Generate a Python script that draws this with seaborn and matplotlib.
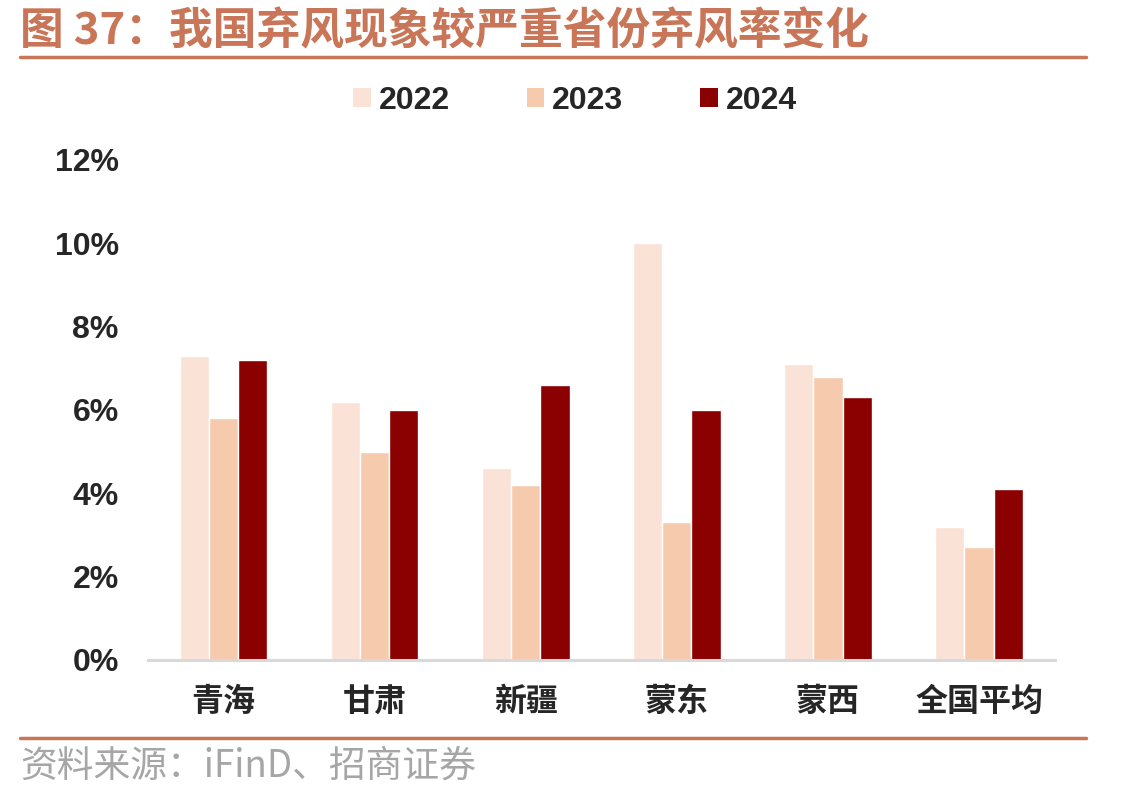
import numpy as np
import pandas as pd
import matplotlib
matplotlib.use("Agg")
import matplotlib.pyplot as plt
import seaborn as sns
from matplotlib.lines import Line2D
from matplotlib.patches import Patch

# Daten
provinces = ["青海", "甘肃", "新疆", "蒙东", "蒙西", "全国平均"]
years = ["2022", "2023", "2024"]
rate_2022 = [7.3, 6.2, 4.6, 10.0, 7.1, 3.2]
rate_2023 = [5.8, 5.0, 4.2, 3.3, 6.8, 2.7]
rate_2024 = [7.2, 6.0, 6.6, 6.0, 6.3, 4.1]
yticks = [0, 2, 4, 6, 8, 10, 12]

colors = ["#FAE3D6", "#F6CAAD", "#8B0000"]

df = pd.DataFrame({
    "省份": provinces * 3,
    "年份": [years[0]] * 6 + [years[1]] * 6 + [years[2]] * 6,
    "弃风率": rate_2022 + rate_2023 + rate_2024,
})

sns.set_style("white")
plt.rcParams['font.family'] = ['Liberation Sans', 'Noto Sans CJK SC', 'DejaVu Sans']

fig = plt.figure(figsize=(11.34, 7.99), dpi=100)
ax = fig.add_axes([0.1305, 0.174, 0.7995, 0.626])

sns.barplot(data=df, x="省份", y="弃风率", hue="年份", palette=colors,
            width=0.58, gap=0, saturation=1, ax=ax, legend=False)

ax.set_ylim(0, 12)
ax.set_xlim(-0.5, 5.5)
ax.set_yticks(yticks)
ax.set_yticklabels([f"{v}%" for v in yticks], fontsize=23, fontweight="bold",
                   family=['Liberation Sans', 'DejaVu Sans'])
ax.set_xticks(range(len(provinces)))
ax.set_xticklabels(provinces, fontsize=23, fontweight="bold",
                   family=['Noto Sans CJK SC', 'DejaVu Sans'])
ax.tick_params(axis="y", length=0, pad=21)
ax.tick_params(axis="x", length=0, pad=19)
ax.set_xlabel("")
ax.set_ylabel("")
for s in ["top", "right", "left"]:
    ax.spines[s].set_visible(False)
ax.spines["bottom"].set_color("#D9D9D9")
ax.spines["bottom"].set_linewidth(2.2)

# Legende
handles = [Patch(facecolor=c, edgecolor="none") for c in colors]
leg = fig.legend(handles, years, loc="center", bbox_to_anchor=(0.507, 0.874),
                 ncol=3, frameon=False, handlelength=0.55, handleheight=0.55,
                 handletextpad=0.25, columnspacing=2.4,
                 prop={"family": "Liberation Sans", "weight": "bold", "size": 23})

# Titel und Fußzeile
title_color = "#C87558"
fig.text(0.018, 0.961, "图 37：我国弃风现象较严重省份弃风率变化", color=title_color,
         fontsize=31.5, fontweight="bold", va="center", ha="left",
         family=['Noto Sans CJK SC', 'DejaVu Sans'])
fig.add_artist(Line2D([0.018, 0.958], [0.929, 0.929], color=title_color, lw=2.5))
fig.add_artist(Line2D([0.018, 0.958], [0.076, 0.076], color=title_color, lw=2.5))
fig.text(0.018, 0.041, "资料来源：iFinD、招商证券", color="#A6A6A6",
         fontsize=26.5, va="center", ha="left",
         family=['Noto Sans CJK SC', 'DejaVu Sans'])

fig.savefig("out.png", dpi=100)
